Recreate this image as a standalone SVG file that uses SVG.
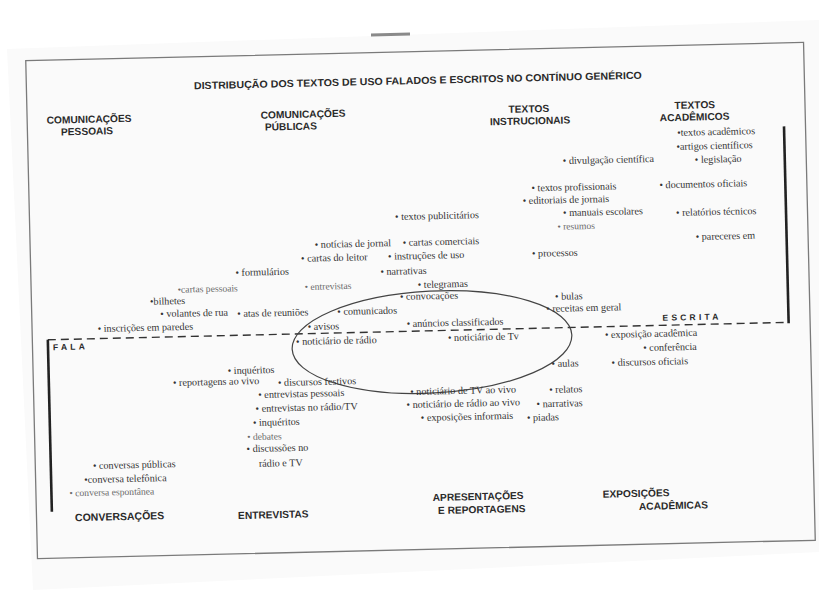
<svg xmlns="http://www.w3.org/2000/svg" width="819" height="590" viewBox="0 0 819 590">
<style>
.h{font-family:"Liberation Sans",Arial,sans-serif;font-weight:bold;font-size:10.2px;fill:#2a2a2a}
.hb{font-family:"Liberation Sans",Arial,sans-serif;font-weight:bold;font-size:10.5px;fill:#2a2a2a}
.t{font-family:"Liberation Serif","Times New Roman",serif;font-size:10.2px;fill:#333}
.s{font-family:"Liberation Serif","Times New Roman",serif;font-size:9.6px;fill:#6a6a6a}
.sp{font-family:"Liberation Sans",Arial,sans-serif;font-weight:bold;font-size:8.5px;fill:#2a2a2a;letter-spacing:3.2px}
.bar{stroke:#222;stroke-width:2.6;fill:none}
.dash{stroke:#333;stroke-width:1.4;stroke-dasharray:8 5;fill:none}
</style>
<rect width="819" height="590" fill="#ffffff"/>
<polygon points="7,49 819,20 819,552 33,590" fill="#fafafa"/>
<line x1="371" y1="35" x2="410" y2="34" stroke="#8a8a8a" stroke-width="3"/>
<g transform="rotate(-1.35 420.5 300.25)">
<rect x="31.5" y="51.5" width="778" height="498" fill="none" stroke="#7a7a7a" stroke-width="1.3"/>
<g id="title"><text class="h" x="199" y="84" font-size="9.2" textLength="448" lengthAdjust="spacingAndGlyphs">DISTRIBUÇÃO DOS TEXTOS DE USO FALADOS E ESCRITOS NO CONTÍNUO GENÉRICO</text></g>
<g id="connectors">
<line class="dash" x1="47" y1="331" x2="788" y2="331"/>
<line class="bar" x1="47" y1="331" x2="47" y2="503"/>
<line class="bar" x1="788" y1="135" x2="788" y2="332"/>
<ellipse cx="431" cy="342.3" rx="140" ry="51" transform="rotate(-1.65 431 342.3)" fill="none" stroke="#444" stroke-width="1.2"/>
</g>
<g id="cat-com-pessoais"><text class="h" x="51" y="115">COMUNICAÇÕES</text><text class="h" x="65" y="127">PESSOAIS</text></g>
<g id="cat-com-publicas"><text class="h" x="265" y="115">COMUNICAÇÕES</text><text class="h" x="269" y="127">PÚBLICAS</text></g>
<g id="cat-instrucionais"><text class="h" x="513" y="115">TEXTOS</text><text class="h" x="494" y="127">INSTRUCIONAIS</text></g>
<g id="cat-academicos"><text class="h" x="679" y="115">TEXTOS</text><text class="h" x="664" y="127">ACADÊMICOS</text></g>
<g id="cat-conversacoes"><text class="hb" x="70" y="513">CONVERSAÇÕES</text></g>
<g id="cat-entrevistas"><text class="h" x="233" y="514.7">ENTREVISTAS</text></g>
<g id="cat-apresentacoes"><text class="h" x="428" y="501.3">APRESENTAÇÕES</text><text class="h" x="433" y="514.4">E REPORTAGENS</text></g>
<g id="cat-exposicoes"><text class="h" x="598" y="502">EXPOSIÇÕES</text><text class="h" x="634" y="515">ACADÊMICAS</text></g>
<g id="escrita"><text class="sp" x="662" y="326.5">ESCRITA</text></g>
<g id="fala"><text class="sp" x="52" y="341.5">FALA</text></g>
<g id="n1"><text class="t" x="681" y="142">•textos acadêmicos</text></g>
<g id="n2"><text class="t" x="680" y="156">•artigos científicos</text></g>
<g id="n3"><text class="t" x="698" y="169.5">• legislação</text></g>
<g id="n4"><text class="t" x="566" y="167.5">• divulgação científica</text></g>
<g id="n5"><text class="t" x="534" y="194">• textos profissionais</text></g>
<g id="n6"><text class="t" x="662" y="194">• documentos oficiais</text></g>
<g id="n7"><text class="t" x="525" y="206.5">• editoriais de jornais</text></g>
<g id="n8"><text class="t" x="565" y="219.5">• manuais escolares</text></g>
<g id="n9"><text class="t" x="678" y="222">• relatórios técnicos</text></g>
<g id="n10"><text class="t" x="397" y="219.5">• textos publicitários</text></g>
<g id="n11"><text class="s" x="559" y="233">• resumos</text></g>
<g id="n12"><text class="t" x="697" y="246.5">• pareceres em</text></g>
<g id="n13"><text class="t" x="533" y="259.5">• processos</text></g>
<g id="n14"><text class="t" x="404" y="245.5">• cartas comerciais</text></g>
<g id="n15"><text class="t" x="389" y="259">• instruções de uso</text></g>
<g id="n16"><text class="t" x="381" y="274">• narrativas</text></g>
<g id="n17"><text class="t" x="418" y="288">• telegramas</text></g>
<g id="n18"><text class="t" x="400" y="299.5">• convocações</text></g>
<g id="n19"><text class="t" x="555" y="303">• bulas</text></g>
<g id="n20"><text class="t" x="546" y="315">• receitas em geral</text></g>
<g id="n21"><text class="t" x="406" y="326.7">• anúncios classificados</text></g>
<g id="n22"><text class="t" x="447" y="341.7">• noticiário de Tv</text></g>
<g id="n23"><text class="t" x="316" y="245.5">• notícias de jornal</text></g>
<g id="n24"><text class="t" x="302" y="259">• cartas do leitor</text></g>
<g id="n25"><text class="t" x="236" y="271.6">• formulários</text></g>
<g id="n26"><text class="s" x="178" y="287">•cartas pessoais</text></g>
<g id="n27"><text class="s" x="305" y="287.3">• entrevistas</text></g>
<g id="n28"><text class="t" x="150" y="298.4">•bilhetes</text></g>
<g id="n29"><text class="t" x="160" y="311">• volantes de rua</text></g>
<g id="n30"><text class="t" x="237" y="312.7">• atas de reuniões</text></g>
<g id="n31"><text class="t" x="337" y="313">• comunicados</text></g>
<g id="n32"><text class="t" x="97" y="324.4">• inscrições em paredes</text></g>
<g id="n33"><text class="t" x="307" y="327.4">• avisos</text></g>
<g id="n34"><text class="t" x="295" y="342">• noticiário de rádio</text></g>
<g id="n35"><text class="t" x="226" y="369.5">• inquéritos</text></g>
<g id="n36"><text class="t" x="171" y="380.2">• reportagens  ao vivo</text></g>
<g id="n37"><text class="t" x="276" y="382.6">• discursos festivos</text></g>
<g id="n38"><text class="t" x="256" y="394.2">• entrevistas pessoais</text></g>
<g id="n39"><text class="t" x="253" y="408">• entrevistas no rádio/TV</text></g>
<g id="n40"><text class="t" x="250" y="422">• inquéritos</text></g>
<g id="n41"><text class="s" x="244" y="436">• debates</text></g>
<g id="n42"><text class="t" x="243" y="448">• discussões no</text><text class="t" x="255" y="463">rádio  e TV</text></g>
<g id="n43"><text class="t" x="89" y="461.3">• conversas públicas</text></g>
<g id="n44"><text class="t" x="80" y="475">•conversa telefônica</text></g>
<g id="n45"><text class="s" x="65" y="488">• conversa espontânea</text></g>
<g id="n46"><text class="t" x="604" y="342.4">• exposição acadêmica</text></g>
<g id="n47"><text class="t" x="642" y="356.3">• conferência</text></g>
<g id="n48"><text class="t" x="610" y="370.5">• discursos oficiais</text></g>
<g id="n49"><text class="t" x="550" y="370">• aulas</text></g>
<g id="n50"><text class="t" x="408" y="394.8">• noticiário de TV ao vivo</text></g>
<g id="n51"><text class="t" x="547" y="396">• relatos</text></g>
<g id="n52"><text class="t" x="404" y="407.7">• noticiário de rádio ao vivo</text></g>
<g id="n53"><text class="t" x="534" y="410">• narrativas</text></g>
<g id="n54"><text class="t" x="418" y="421">• exposições informais</text></g>
<g id="n55"><text class="t" x="524" y="423.5">• piadas</text></g>
</g>
</svg>
